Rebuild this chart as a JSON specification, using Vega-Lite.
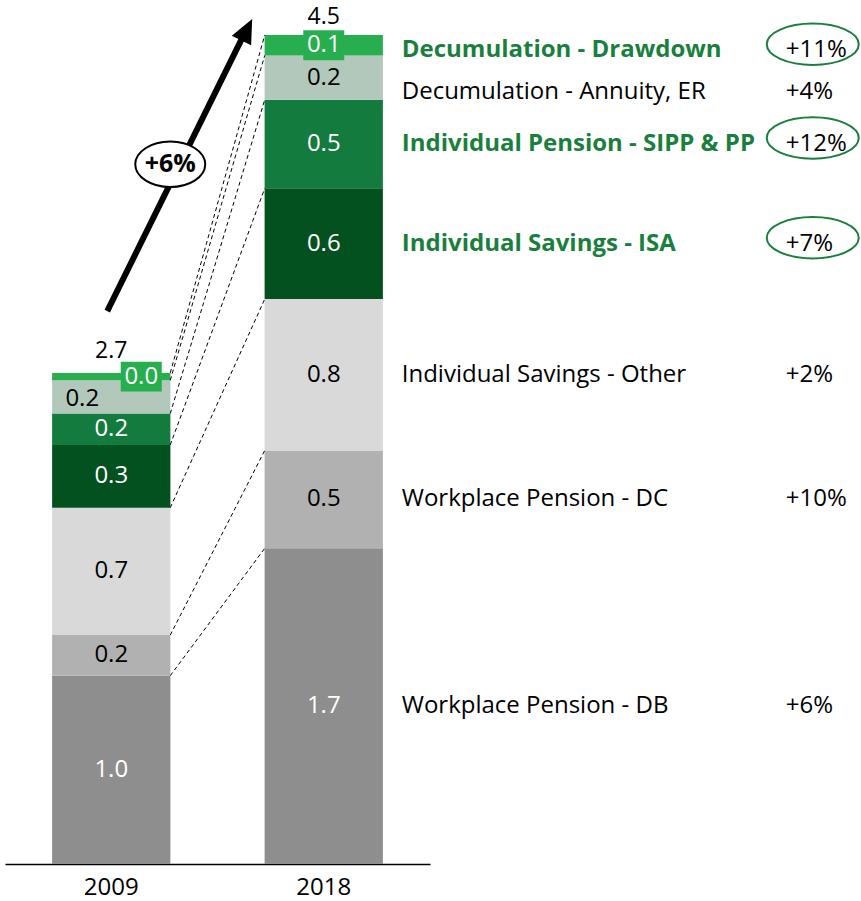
{
  "$schema": "https://vega.github.io/schema/vega-lite/v6.json",
  "width": 425,
  "height": 864,
  "autosize": {"type": "none"},
  "padding": {"left": 5, "right": 431, "top": 0, "bottom": 37},
  "background": "white",
  "config": {
    "font": "Open Sans",
    "view": {"stroke": null},
    "text": {"font": "Open Sans", "fontSize": 24}
  },
  "data": {
    "values": [
      {"year": "2009", "cat": "Workplace Pension - DB", "value": 1.02, "cagr": "+6%"},
      {"year": "2009", "cat": "Workplace Pension - DC", "value": 0.22, "cagr": "+10%"},
      {"year": "2009", "cat": "Individual Savings - Other", "value": 0.69, "cagr": "+2%"},
      {"year": "2009", "cat": "Individual Savings - ISA", "value": 0.34, "cagr": "+7%"},
      {"year": "2009", "cat": "Individual Pension - SIPP & PP", "value": 0.17, "cagr": "+12%"},
      {"year": "2009", "cat": "Decumulation - Annuity, ER", "value": 0.18, "cagr": "+4%"},
      {"year": "2009", "cat": "Decumulation - Drawdown", "value": 0.04, "cagr": "+11%"},
      {"year": "2018", "cat": "Workplace Pension - DB", "value": 1.71, "cagr": "+6%"},
      {"year": "2018", "cat": "Workplace Pension - DC", "value": 0.53, "cagr": "+10%"},
      {"year": "2018", "cat": "Individual Savings - Other", "value": 0.82, "cagr": "+2%"},
      {"year": "2018", "cat": "Individual Savings - ISA", "value": 0.60, "cagr": "+7%"},
      {"year": "2018", "cat": "Individual Pension - SIPP & PP", "value": 0.48, "cagr": "+12%"},
      {"year": "2018", "cat": "Decumulation - Annuity, ER", "value": 0.24, "cagr": "+4%"},
      {"year": "2018", "cat": "Decumulation - Drawdown", "value": 0.11, "cagr": "+11%"}
    ]
  },
  "transform": [
    {"stack": "value", "groupby": ["year"], "as": ["v0", "v1"]},
    {"calculate": "(datum.v0 + datum.v1) / 2", "as": "vmid"}
  ],
  "layer": [
    {
      "mark": {"type": "bar"},
      "encoding": {
        "x": {
          "field": "year", "type": "nominal",
          "scale": {"paddingInner": 0.4434, "paddingOuter": 0.2217},
          "axis": {"title": null, "labelAngle": 0, "labelFontSize": 24, "labelColor": "black", "labelFont": "Open Sans", "ticks": false, "domainColor": "black", "domainWidth": 1.5, "labelPadding": 11, "grid": false}
        },
        "y": {"field": "v0", "type": "quantitative", "scale": {"domain": [0, 4.68], "nice": false, "zero": true}, "axis": null},
        "y2": {"field": "v1"},
        "color": {
          "field": "cat", "type": "nominal", "legend": null,
          "scale": {
            "domain": ["Workplace Pension - DB", "Workplace Pension - DC", "Individual Savings - Other", "Individual Savings - ISA", "Individual Pension - SIPP & PP", "Decumulation - Annuity, ER", "Decumulation - Drawdown"],
            "range": ["#8e8e8e", "#b1b1b1", "#d9d9d9", "#03511f", "#137b3d", "#b2c8ba", "#27ae4f"]
          }
        }
      }
    },
    {
      "transform": [{"pivot": "year", "value": "v1", "groupby": ["cat"]}],
      "mark": {"type": "rule", "strokeDash": [4, 3], "strokeWidth": 1, "color": "black", "xOffset": 59, "x2Offset": -59},
      "encoding": {
        "x": {"datum": "2009", "type": "nominal"},
        "x2": {"datum": "2018"},
        "y": {"field": "2009", "type": "quantitative"},
        "y2": {"field": "2018"}
      }
    },
    {
      "transform": [{"filter": "datum.cat !== 'Decumulation - Drawdown' && !(datum.year === '2009' && datum.cat === 'Decumulation - Annuity, ER')"}],
      "mark": {"type": "text", "baseline": "middle", "align": "center", "fontSize": 24},
      "encoding": {
        "x": {"field": "year", "type": "nominal"},
        "y": {"field": "vmid", "type": "quantitative"},
        "text": {"field": "value", "type": "quantitative", "format": ".1f"},
        "color": {"condition": {"test": "datum.cat === 'Workplace Pension - DB' || datum.cat === 'Individual Savings - ISA' || datum.cat === 'Individual Pension - SIPP & PP'", "value": "white"}, "value": "black"}
      }
    },
    {
      "transform": [{"filter": "datum.year === '2009' && datum.cat === 'Decumulation - Annuity, ER'"}],
      "mark": {"type": "text", "baseline": "middle", "align": "center", "fontSize": 24, "dx": -29, "dy": 2, "color": "black"},
      "encoding": {
        "x": {"field": "year", "type": "nominal"},
        "y": {"field": "vmid", "type": "quantitative"},
        "text": {"field": "value", "type": "quantitative", "format": ".1f"}
      }
    },
    {
      "transform": [{"filter": "datum.year === '2009' && datum.cat === 'Decumulation - Drawdown'"}],
      "mark": {"type": "point", "shape": "M-1,-0.73L1,-0.73L1,0.73L-1,0.73Z", "size": 1681, "filled": true, "color": "#27ae4f", "opacity": 1, "xOffset": 30},
      "encoding": {
        "x": {"field": "year", "type": "nominal"},
        "y": {"field": "vmid", "type": "quantitative"}
      }
    },
    {
      "transform": [{"filter": "datum.year === '2018' && datum.cat === 'Decumulation - Drawdown'"}],
      "mark": {"type": "point", "shape": "M-1,-0.73L1,-0.73L1,0.73L-1,0.73Z", "size": 1681, "filled": true, "color": "#27ae4f", "opacity": 1},
      "encoding": {
        "x": {"field": "year", "type": "nominal"},
        "y": {"field": "vmid", "type": "quantitative"}
      }
    },
    {
      "transform": [{"filter": "datum.year === '2009' && datum.cat === 'Decumulation - Drawdown'"}],
      "mark": {"type": "text", "baseline": "middle", "align": "center", "fontSize": 24, "dx": 30, "color": "white"},
      "encoding": {
        "x": {"field": "year", "type": "nominal"},
        "y": {"field": "vmid", "type": "quantitative"},
        "text": {"field": "value", "type": "quantitative", "format": ".1f"}
      }
    },
    {
      "transform": [{"filter": "datum.year === '2018' && datum.cat === 'Decumulation - Drawdown'"}],
      "mark": {"type": "text", "baseline": "middle", "align": "center", "fontSize": 24, "color": "white"},
      "encoding": {
        "x": {"field": "year", "type": "nominal"},
        "y": {"field": "vmid", "type": "quantitative"},
        "text": {"field": "value", "type": "quantitative", "format": ".1f"}
      }
    },
    {
      "transform": [{"aggregate": [{"op": "sum", "field": "value", "as": "total"}], "groupby": ["year"]}, {"filter": "datum.year === '2009'"}],
      "mark": {"type": "text", "baseline": "alphabetic", "align": "center", "fontSize": 23, "dy": -15, "color": "black"},
      "encoding": {
        "x": {"field": "year", "type": "nominal"},
        "y": {"field": "total", "type": "quantitative"},
        "text": {"field": "total", "type": "quantitative", "format": ".1f"}
      }
    },
    {
      "transform": [{"aggregate": [{"op": "sum", "field": "value", "as": "total"}], "groupby": ["year"]}, {"filter": "datum.year === '2018'"}],
      "mark": {"type": "text", "baseline": "alphabetic", "align": "center", "fontSize": 23, "dy": -11, "color": "black"},
      "encoding": {
        "x": {"field": "year", "type": "nominal"},
        "y": {"field": "total", "type": "quantitative"},
        "text": {"field": "total", "type": "quantitative", "format": ".1f"}
      }
    },
    {
      "transform": [{"filter": "datum.year === '2018' && (datum.cat === 'Individual Savings - ISA' || datum.cat === 'Individual Pension - SIPP & PP')"}],
      "mark": {"type": "text", "baseline": "middle", "align": "left", "fontSize": 24, "fontWeight": "bold", "dx": 78, "color": "#1a7f3e"},
      "encoding": {
        "x": {"field": "year", "type": "nominal"},
        "y": {"field": "vmid", "type": "quantitative"},
        "text": {"field": "cat", "type": "nominal"}
      }
    },
    {
      "transform": [{"filter": "datum.year === '2018' && datum.cat === 'Decumulation - Drawdown'"}],
      "mark": {"type": "text", "baseline": "middle", "align": "left", "fontSize": 24, "fontWeight": "bold", "dx": 78, "dy": 5, "color": "#1a7f3e"},
      "encoding": {
        "x": {"field": "year", "type": "nominal"},
        "y": {"field": "vmid", "type": "quantitative"},
        "text": {"field": "cat", "type": "nominal"}
      }
    },
    {
      "transform": [{"filter": "datum.year === '2018' && (datum.cat === 'Individual Savings - Other' || datum.cat === 'Workplace Pension - DC' || datum.cat === 'Workplace Pension - DB')"}],
      "mark": {"type": "text", "baseline": "middle", "align": "left", "fontSize": 24, "dx": 78, "color": "black"},
      "encoding": {
        "x": {"field": "year", "type": "nominal"},
        "y": {"field": "vmid", "type": "quantitative"},
        "text": {"field": "cat", "type": "nominal"}
      }
    },
    {
      "transform": [{"filter": "datum.year === '2018' && datum.cat === 'Decumulation - Annuity, ER'"}],
      "mark": {"type": "text", "baseline": "middle", "align": "left", "fontSize": 24, "dx": 78, "dy": 14, "color": "black"},
      "encoding": {
        "x": {"field": "year", "type": "nominal"},
        "y": {"field": "vmid", "type": "quantitative"},
        "text": {"field": "cat", "type": "nominal"}
      }
    },
    {
      "transform": [{"filter": "datum.year === '2018' && (datum.cat === 'Individual Savings - ISA' || datum.cat === 'Individual Pension - SIPP & PP')"}],
      "mark": {"type": "point", "shape": "M-1,0C-1,-0.2485,-0.5523,-0.45,0,-0.45C0.5523,-0.45,1,-0.2485,1,0C1,0.2485,0.5523,0.45,0,0.45C-0.5523,0.45,-1,0.2485,-1,0Z", "size": 8464, "filled": false, "stroke": "#1a7f3e", "strokeWidth": 2, "opacity": 1, "xOffset": 489, "yOffset": -6},
      "encoding": {
        "x": {"field": "year", "type": "nominal"},
        "y": {"field": "vmid", "type": "quantitative"}
      }
    },
    {
      "transform": [{"filter": "datum.year === '2018' && datum.cat === 'Decumulation - Drawdown'"}],
      "mark": {"type": "point", "shape": "M-1,0C-1,-0.2485,-0.5523,-0.45,0,-0.45C0.5523,-0.45,1,-0.2485,1,0C1,0.2485,0.5523,0.45,0,0.45C-0.5523,0.45,-1,0.2485,-1,0Z", "size": 8464, "filled": false, "stroke": "#1a7f3e", "strokeWidth": 2, "opacity": 1, "xOffset": 489, "yOffset": -1},
      "encoding": {
        "x": {"field": "year", "type": "nominal"},
        "y": {"field": "vmid", "type": "quantitative"}
      }
    },
    {
      "transform": [{"filter": "datum.year === '2018' && datum.cat !== 'Decumulation - Drawdown' && datum.cat !== 'Decumulation - Annuity, ER'"}],
      "mark": {"type": "text", "baseline": "middle", "align": "left", "fontSize": 24, "dx": 462, "color": "black"},
      "encoding": {
        "x": {"field": "year", "type": "nominal"},
        "y": {"field": "vmid", "type": "quantitative"},
        "text": {"field": "cagr", "type": "nominal"}
      }
    },
    {
      "transform": [{"filter": "datum.year === '2018' && datum.cat === 'Decumulation - Drawdown'"}],
      "mark": {"type": "text", "baseline": "middle", "align": "left", "fontSize": 24, "dx": 462, "dy": 5, "color": "black"},
      "encoding": {
        "x": {"field": "year", "type": "nominal"},
        "y": {"field": "vmid", "type": "quantitative"},
        "text": {"field": "cagr", "type": "nominal"}
      }
    },
    {
      "transform": [{"filter": "datum.year === '2018' && datum.cat === 'Decumulation - Annuity, ER'"}],
      "mark": {"type": "text", "baseline": "middle", "align": "left", "fontSize": 24, "dx": 462, "dy": 14, "color": "black"},
      "encoding": {
        "x": {"field": "year", "type": "nominal"},
        "y": {"field": "vmid", "type": "quantitative"},
        "text": {"field": "cagr", "type": "nominal"}
      }
    },
    {
      "data": {"values": [{"label": "+6%"}]},
      "layer": [
        {
          "mark": {"type": "rule", "strokeWidth": 6, "color": "black", "strokeCap": "butt", "xOffset": -4, "x2Offset": -81},
          "encoding": {
            "x": {"datum": "2009", "type": "nominal"},
            "x2": {"datum": "2018"},
            "y": {"datum": 2.995, "type": "quantitative"},
            "y2": {"datum": 4.48}
          }
        },
        {
          "mark": {"type": "point", "shape": "M0,-1.2L0.9,0.8L-0.9,0.8Z", "size": 576, "angle": 26.5, "filled": true, "color": "black", "opacity": 1, "xOffset": -78},
          "encoding": {
            "x": {"datum": "2018", "type": "nominal"},
            "y": {"datum": 4.507, "type": "quantitative"}
          }
        },
        {
          "mark": {"type": "point", "shape": "M-1,0C-1,-0.359,-0.5523,-0.65,0,-0.65C0.5523,-0.65,1,-0.359,1,0C1,0.359,0.5523,0.65,0,0.65C-0.5523,0.65,-1,0.359,-1,0Z", "size": 4900, "filled": true, "fill": "white", "stroke": "black", "strokeWidth": 2, "opacity": 1, "xOffset": 59},
          "encoding": {
            "x": {"datum": "2009", "type": "nominal"},
            "y": {"datum": 3.79, "type": "quantitative"}
          }
        },
        {
          "mark": {"type": "text", "baseline": "middle", "align": "center", "fontSize": 25, "fontWeight": "bold", "dx": 59, "color": "black"},
          "encoding": {
            "x": {"datum": "2009", "type": "nominal"},
            "y": {"datum": 3.79, "type": "quantitative"},
            "text": {"field": "label", "type": "nominal"}
          }
        }
      ]
    }
  ]
}
